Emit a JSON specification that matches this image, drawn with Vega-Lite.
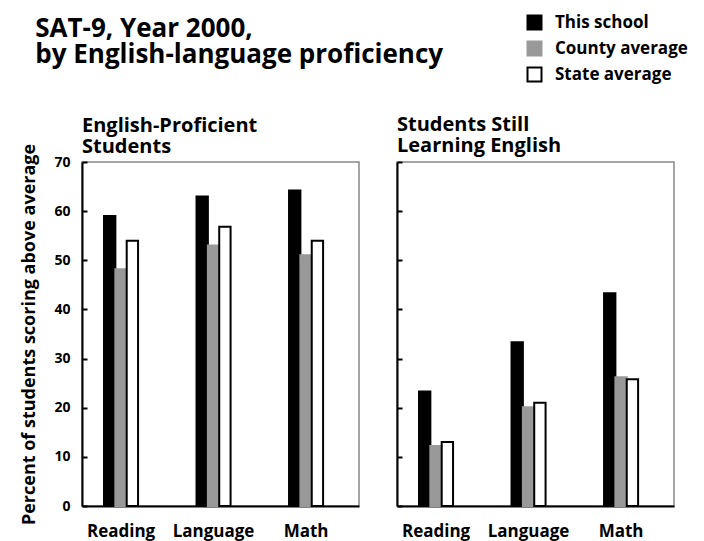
{
  "$schema": "https://vega.github.io/schema/vega-lite/v6.json",
  "background": "white",
  "padding": {"left": 20, "top": 14, "right": 5, "bottom": 5},
  "config": {
    "font": "Open Sans",
    "view": {"stroke": "#888888", "strokeWidth": 1.5},
    "axis": {"domainColor": "black", "domainWidth": 2, "tickColor": "black", "tickWidth": 2, "labelColor": "black", "titleColor": "black", "grid": false, "labelFont": "Open Sans", "labelFontWeight": "bold"},
    "title": {"color": "black", "fontWeight": "bold", "font": "Open Sans"}
  },
  "title": {"text": ["SAT-9, Year 2000,", "by English-language proficiency"], "anchor": "start", "fontSize": 26, "lineHeight": 26, "offset": -54, "dx": 15},
  "datasets": {
    "scores": [
      {"group": "English-Proficient", "subject": "Reading", "series": "This school", "value": 59},
      {"group": "English-Proficient", "subject": "Reading", "series": "County average", "value": 48.2},
      {"group": "English-Proficient", "subject": "Reading", "series": "State average", "value": 54},
      {"group": "English-Proficient", "subject": "Language", "series": "This school", "value": 63},
      {"group": "English-Proficient", "subject": "Language", "series": "County average", "value": 53},
      {"group": "English-Proficient", "subject": "Language", "series": "State average", "value": 56.8},
      {"group": "English-Proficient", "subject": "Math", "series": "This school", "value": 64.2},
      {"group": "English-Proficient", "subject": "Math", "series": "County average", "value": 51},
      {"group": "English-Proficient", "subject": "Math", "series": "State average", "value": 54},
      {"group": "Learning English", "subject": "Reading", "series": "This school", "value": 23.3},
      {"group": "Learning English", "subject": "Reading", "series": "County average", "value": 12.2},
      {"group": "Learning English", "subject": "Reading", "series": "State average", "value": 13},
      {"group": "Learning English", "subject": "Language", "series": "This school", "value": 33.3},
      {"group": "Learning English", "subject": "Language", "series": "County average", "value": 20.1},
      {"group": "Learning English", "subject": "Language", "series": "State average", "value": 21},
      {"group": "Learning English", "subject": "Math", "series": "This school", "value": 43.3},
      {"group": "Learning English", "subject": "Math", "series": "County average", "value": 26.2},
      {"group": "Learning English", "subject": "Math", "series": "State average", "value": 25.8}
    ]
  },
  "spacing": 35,
  "resolve": {"scale": {"color": "shared", "stroke": "shared"}},
  "hconcat": [
    {
      "width": 277,
      "height": 344,
      "title": {"text": ["English-Proficient", "Students"], "anchor": "start", "frame": "group", "fontSize": 20, "lineHeight": 21, "offset": -14},
      "data": {"name": "scores"},
      "transform": [{"filter": "datum.group === 'English-Proficient'"}],
      "mark": {"type": "bar", "strokeWidth": 2},
      "encoding": {
        "x": {"field": "subject", "type": "nominal", "sort": ["Reading", "Language", "Math"],
              "scale": {"paddingInner": 0.632, "paddingOuter": 0.313, "align": 0.38},
              "axis": {"title": null, "labelAngle": 0, "ticks": false, "labelPadding": 17, "labelFontSize": 17}},
        "xOffset": {"field": "series", "type": "nominal", "sort": ["This school", "County average", "State average"], "scale": {"paddingInner": 0, "paddingOuter": 0}},
        "y": {"field": "value", "type": "quantitative", "scale": {"domain": [0, 70], "nice": false},
              "axis": {"values": [0, 10, 20, 30, 40, 50, 60, 70], "tickSize": -5, "labelPadding": 17, "labelFontSize": 14,
                       "title": "Percent of students scoring above average", "titleFontSize": 18, "titleFontWeight": "bold", "titlePadding": 15}},
        "color": {"field": "series", "type": "nominal", "sort": ["This school", "County average", "State average"],
                  "scale": {"domain": ["This school", "County average", "State average"], "range": ["black", "#999999", "white"]},
                  "legend": {"title": null, "orient": "none", "legendX": 444, "legendY": -148, "padding": 0, "symbolType": "square", "symbolSize": 196, "symbolStrokeWidth": 2, "labelFontSize": 17, "labelFontWeight": "bold", "labelColor": "black", "rowPadding": 3, "labelOffset": 12,
                             "encode": {"symbols": {"update": {"fill": {"signal": "datum.value === 'County average' ? '#b4b4b4' : datum.value === 'This school' ? 'black' : 'white'"}, "stroke": {"signal": "datum.value === 'County average' ? '#b4b4b4' : 'black'"}}}}}},
        "stroke": {"field": "series", "type": "nominal", "sort": ["This school", "County average", "State average"],
                   "scale": {"domain": ["This school", "County average", "State average"], "range": ["black", "#999999", "black"]},
                   "legend": null}
      }
    },
    {
      "width": 277,
      "height": 344,
      "title": {"text": ["Students Still", "Learning English"], "anchor": "start", "frame": "group", "fontSize": 20, "lineHeight": 21, "offset": 5},
      "data": {"name": "scores"},
      "transform": [{"filter": "datum.group === 'Learning English'"}],
      "mark": {"type": "bar", "strokeWidth": 2},
      "encoding": {
        "x": {"field": "subject", "type": "nominal", "sort": ["Reading", "Language", "Math"],
              "scale": {"paddingInner": 0.632, "paddingOuter": 0.313, "align": 0.38},
              "axis": {"title": null, "labelAngle": 0, "ticks": false, "labelPadding": 17, "labelFontSize": 17}},
        "xOffset": {"field": "series", "type": "nominal", "sort": ["This school", "County average", "State average"], "scale": {"paddingInner": 0, "paddingOuter": 0}},
        "y": {"field": "value", "type": "quantitative", "scale": {"domain": [0, 70], "nice": false},
              "axis": {"values": [0, 10, 20, 30, 40, 50, 60, 70], "tickSize": -5, "labels": false, "title": null}},
        "color": {"field": "series", "type": "nominal", "sort": ["This school", "County average", "State average"],
                  "scale": {"domain": ["This school", "County average", "State average"], "range": ["black", "#999999", "white"]},
                  "legend": null},
        "stroke": {"field": "series", "type": "nominal", "sort": ["This school", "County average", "State average"],
                   "scale": {"domain": ["This school", "County average", "State average"], "range": ["black", "#999999", "black"]},
                   "legend": null}
      }
    }
  ]
}
